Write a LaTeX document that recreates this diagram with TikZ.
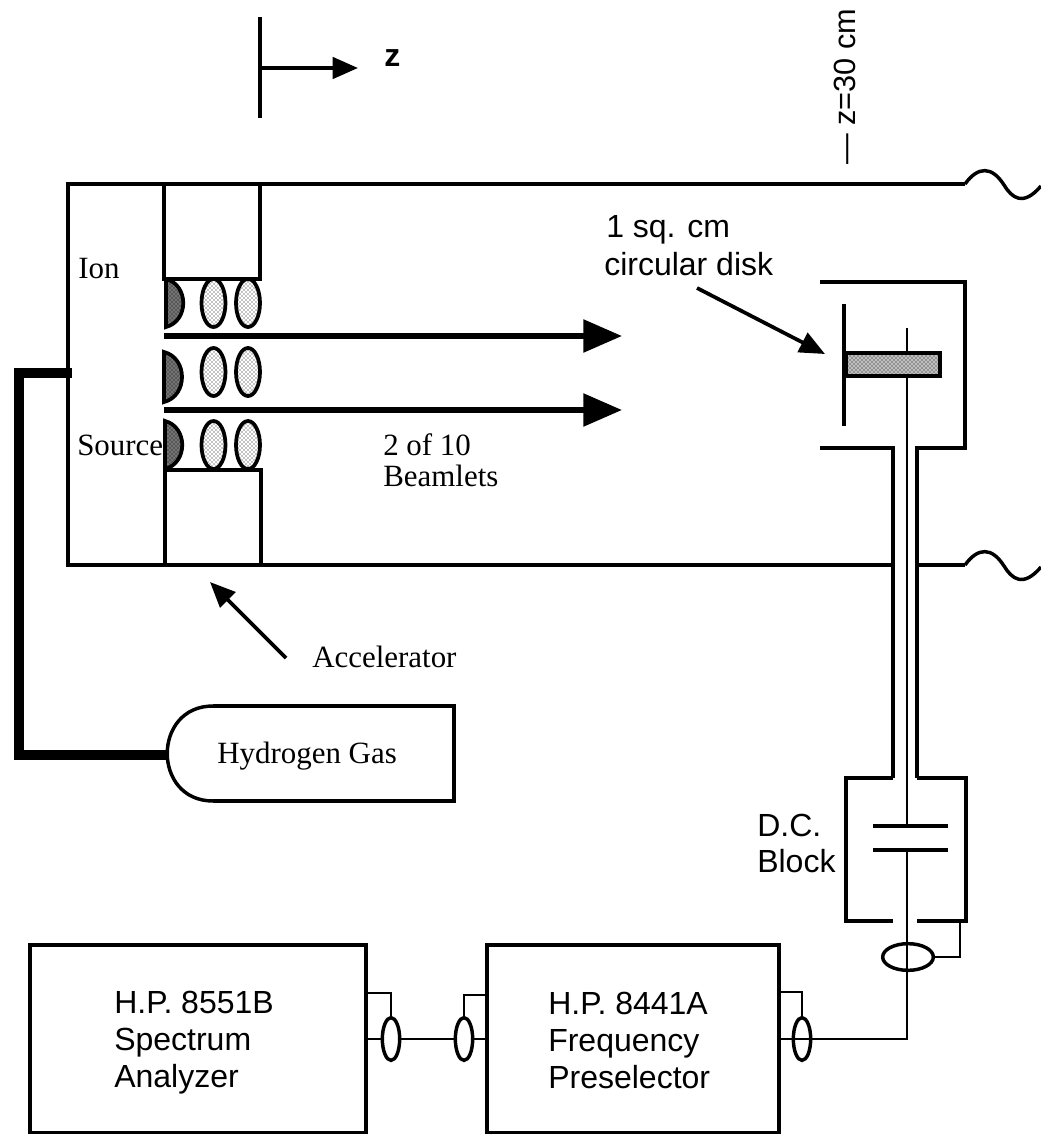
\documentclass[tikz,border=0pt]{standalone}
\usepackage{fontspec}
\setmainfont{Liberation Serif}
\setsansfont{Liberation Sans}
\usetikzlibrary{arrows.meta,shapes.geometric,patterns}
\tikzset{
  wall/.style={line width=2.6pt},
  thin wall/.style={line width=2.1pt},
  gas line/.style={line width=7.5pt},
  beam/.style={line width=4.2pt,-{Triangle[length=29pt,width=24pt]}},
  pointer/.style={line width=2.8pt,-{Triangle[length=19pt,width=16pt]}},
  serif label/.style={anchor=base west,inner sep=0pt,font=\fontsize{23.2}{23.2}\selectfont},
  sans label/.style={anchor=base west,inner sep=0pt,font=\sffamily\fontsize{24}{24}\selectfont},
  lens/.style={draw,ellipse,line width=2.8pt,inner sep=0pt,minimum width=18pt,minimum height=36pt,pattern=crosshatch dots},
  cathode/.style={draw,line width=2.8pt,preaction={fill=black!55},pattern=crosshatch dots},
  instrument/.style={draw,rectangle,line width=2.6pt,inner sep=0pt,minimum height=141pt},
  ring/.style={draw,ellipse,line width=2.6pt,inner sep=0pt},
}
\begin{document}
\begin{tikzpicture}[x=0.75pt,y=-0.75pt]
  \useasboundingbox (0,0) rectangle (1041,1134);
  \coordinate (topend) at (965,184);
  \coordinate (botend) at (965,565);
  \coordinate (corner1) at (68,184);
  \coordinate (corner2) at (68,565);
  \coordinate (rodtop) at (907,328);
  \coordinate (cap1) at (907,826);
  \coordinate (cap2) at (907,850);
  \coordinate (s1) at (366,993);
  \coordinate (s2) at (487,995);
  \coordinate (s3) at (779,992);
  \coordinate (s4) at (960,921);

  \node (box1) [instrument,minimum width=252pt] at (198,1039) {};
  \node (box2) [instrument,minimum width=219pt] at (633,1039) {};
  \node (disk) [draw,line width=3pt,inner sep=0pt,minimum width=71pt,minimum height=17pt,preaction={fill=black!25},pattern=crosshatch dots] at (893,364.5) {};
  \node (ring1) [ring,minimum width=13pt,minimum height=32pt] at (391,1039) {};
  \node (ring2) [ring,minimum width=13pt,minimum height=32pt] at (464,1039) {};
  \node (ring3) [ring,minimum width=13pt,minimum height=32pt] at (802,1039) {};
  \node (ring4) [ring,minimum width=38pt,minimum height=20pt] at (908,957) {};

  \node (lens1) [lens] at (213.5,303) {};
  \node (lens2) [lens] at (248,303) {};
  \node (lens3) [lens] at (213.5,372) {};
  \node (lens4) [lens] at (248,372) {};
  \node (lens5) [lens] at (213.5,445) {};
  \node (lens6) [lens] at (248,445) {};

  \node (ion) [serif label] at (78,278) {Ion};
  \node (source) [serif label] at (77,455) {Source};
  \node (beamlets1) [serif label] at (383,455) {2 of 10};
  \node (beamlets2) [serif label] at (383,486) {Beamlets};
  \node (accel) [serif label] at (312,667) {Accelerator};
  \node (hydrogen) [serif label] at (217,763) {Hydrogen Gas};
  \node (zlabel) [sans label,font=\sffamily\bfseries\fontsize{24}{24}\selectfont] at (384,67) {z};
  \node (zcm) [sans label,rotate=90,font=\sffamily\fontsize{23}{23}\selectfont] at (855,165) {— z=30 cm};
  \node (disk1) [sans label] at (606,238) {1 sq. cm};
  \node (disk2) [sans label] at (604,275) {circular disk};
  \node (dc1) [sans label] at (757,836) {D.C.};
  \node (dc2) [sans label] at (757,872) {Block};
  \node (sa1) [sans label] at (114,1013) {H.P. 8551B};
  \node (sa2) [sans label] at (114,1050) {Spectrum};
  \node (sa3) [sans label] at (114,1087) {Analyzer};
  \node (fp1) [sans label] at (548,1014) {H.P. 8441A};
  \node (fp2) [sans label] at (548,1051) {Frequency};
  \node (fp3) [sans label] at (548,1088) {Preselector};

  \begin{scope}[wall]
    \draw (topend) -- (corner1) -- (corner2) -- (893,565);
    \draw (917,565) -- (botend);
    \draw (topend) .. controls (978,166) and (992,166) .. (1004,185) .. controls (1012,198) and (1023,207) .. (1041,186);
    \draw (botend) .. controls (978,547) and (992,547) .. (1004,566) .. controls (1012,579) and (1023,588) .. (1041,567);
    \draw (164,184) -- (164,279) -- (260,279) -- (260,184);
    \draw (165,565) -- (165,470) -- (261,470) -- (261,565);
    \draw (820,282) -- (965,282) -- (965,448) -- (917,448) -- (917,778);
    \draw (820,448) -- (893,448) -- (893,778);
    \draw (844,304) -- (844,426);
    \draw (893,778) -- (846,778) -- (846,921) -- (893,921);
    \draw (917,778) -- (966,778) -- (966,921) -- (917,921);
    \draw (873,826) -- (948,826);
    \draw (873,850) -- (948,850);
    \draw (260,17) -- (260,118);
    \draw (213,706) -- (454,706) -- (454,801) -- (213,801);
    \draw (213,706) .. controls (152,706) and (152,801) .. (213,801);
  \end{scope}

  \begin{scope}[thin wall]
    \draw (rodtop) -- (rodtop |- disk.north);
    \draw (rodtop |- disk.south) -- (cap1);
    \draw (cap2) -- (rodtop |- box2.east) -- (box2.east);
    \draw (box1) -- (ring1);
    \draw (ring1) -- (ring2);
    \draw (ring2) -- (box2);
    \draw (ring1.north) |- (s1);
    \draw (ring2.north) |- (s2);
    \draw (ring3.north) |- (s3);
    \draw (ring4.east) -| (s4);
  \end{scope}

  \draw[gas line] (72,373) -- (19,373) -- (19,755) -- (168,755);

  \draw[cathode] (166,279) .. controls (189,285) and (189,321) .. (166,327) -- cycle;
  \draw[cathode] (164,352) .. controls (188,358) and (188,396) .. (164,402) -- cycle;
  \draw[cathode] (165,421) .. controls (188,427) and (188,463) .. (165,469) -- cycle;

  \draw[beam] (164,336) -- (622,336);
  \draw[beam] (164,410) -- (622,410);
  \draw[pointer] (260,68) -- (358,68);
  \draw[pointer] (286,658) -- (210,582);
  \draw[pointer] (697,288) -- (825,354);
\end{tikzpicture}
\end{document}
